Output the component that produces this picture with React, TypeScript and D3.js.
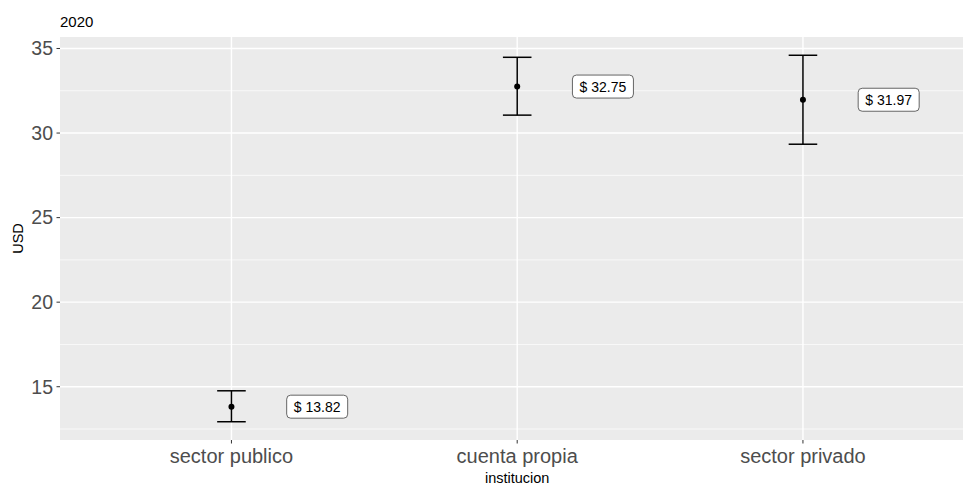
import React from "react";
import * as d3 from "d3";

const categories = ["sector publico", "cuenta propia", "sector privado"];
const means = [13.82, 32.75, 31.97];
const lower = [12.93, 31.06, 29.34];
const upper = [14.76, 34.48, 34.6];
const labels = ["$ 13.82", "$ 32.75", "$ 31.97"];
const yTicks = [15, 20, 25, 30, 35];
const yMinor = [12.5, 17.5, 22.5, 27.5, 32.5];
const title = "2020";
const xTitle = "institucion";
const yTitle = "USD";

const W = 963;
const H = 485;
const panel = { left: 60, top: 37, right: 974.4, bottom: 440 };

export default function App() {
  const x = d3.scaleLinear().domain([0.4, 3.6]).range([panel.left, panel.right]);
  const y = d3.scaleLinear().domain([11.85, 35.68]).range([panel.bottom, panel.top]);
  const nudge = 0.3;
  const capHalf = 0.05;
  const font = "Liberation Sans, Arial, sans-serif";

  return (
    <svg width={W} height={H} style={{ position: "absolute", left: 0, top: 0 }} fontFamily={font}>
      <rect x={0} y={0} width={W} height={H} fill="#fff" />
      <text x={60} y={27} fontSize={15} fill="#000">{title}</text>
      <rect x={panel.left} y={panel.top} width={panel.right - panel.left} height={panel.bottom - panel.top} fill="#EBEBEB" />
      {yMinor.map((t) => (
        <line key={"mn" + t} x1={panel.left} x2={panel.right} y1={y(t)} y2={y(t)} stroke="#fff" strokeWidth={0.7} />
      ))}
      {yTicks.map((t) => (
        <line key={"mj" + t} x1={panel.left} x2={panel.right} y1={y(t)} y2={y(t)} stroke="#fff" strokeWidth={1.4} />
      ))}
      {categories.map((c, i) => (
        <line key={"vx" + c} x1={x(i + 1)} x2={x(i + 1)} y1={panel.top} y2={panel.bottom} stroke="#fff" strokeWidth={1.4} />
      ))}
      {yTicks.map((t) => (
        <g key={"yt" + t}>
          <line x1={56.5} x2={panel.left} y1={y(t)} y2={y(t)} stroke="#333" strokeWidth={1} />
          <text x={53} y={y(t)} dy="0.35em" textAnchor="end" fontSize={19.5} fill="#4D4D4D">{t}</text>
        </g>
      ))}
      {categories.map((c, i) => (
        <g key={"xt" + c}>
          <line x1={x(i + 1)} x2={x(i + 1)} y1={panel.bottom} y2={panel.bottom + 3.5} stroke="#333" strokeWidth={1} />
          <text x={x(i + 1)} y={462.5} textAnchor="middle" fontSize={20} fill="#4D4D4D">{c}</text>
        </g>
      ))}
      <text x={(panel.left + panel.right) / 2} y={483} textAnchor="middle" fontSize={14.5} fill="#000">{xTitle}</text>
      <text transform={`translate(23,${(panel.top + panel.bottom) / 2}) rotate(-90)`} textAnchor="middle" fontSize={14.5} fill="#000">{yTitle}</text>
      {categories.map((c, i) => {
        const cx = x(i + 1);
        return (
          <g key={"eb" + c}>
            <line x1={cx} x2={cx} y1={y(lower[i])} y2={y(upper[i])} stroke="#000" strokeWidth={1.5} />
            <line x1={x(i + 1 - capHalf)} x2={x(i + 1 + capHalf)} y1={y(lower[i])} y2={y(lower[i])} stroke="#000" strokeWidth={1.5} />
            <line x1={x(i + 1 - capHalf)} x2={x(i + 1 + capHalf)} y1={y(upper[i])} y2={y(upper[i])} stroke="#000" strokeWidth={1.5} />
            <circle cx={cx} cy={y(means[i])} r={3} fill="#000" />
          </g>
        );
      })}
      {categories.map((c, i) => {
        const lx = x(i + 1 + nudge);
        const ly = y(means[i]);
        const bw = 61;
        const bh = 23;
        return (
          <g key={"lb" + c}>
            <rect x={lx - bw / 2} y={ly - bh / 2} width={bw} height={bh} rx={4} ry={4} fill="#fff" stroke="#555" strokeWidth={0.9} />
            <text x={lx} y={ly} dy="0.36em" textAnchor="middle" fontSize={14} fill="#000">{labels[i]}</text>
          </g>
        );
      })}
    </svg>
  );
}
